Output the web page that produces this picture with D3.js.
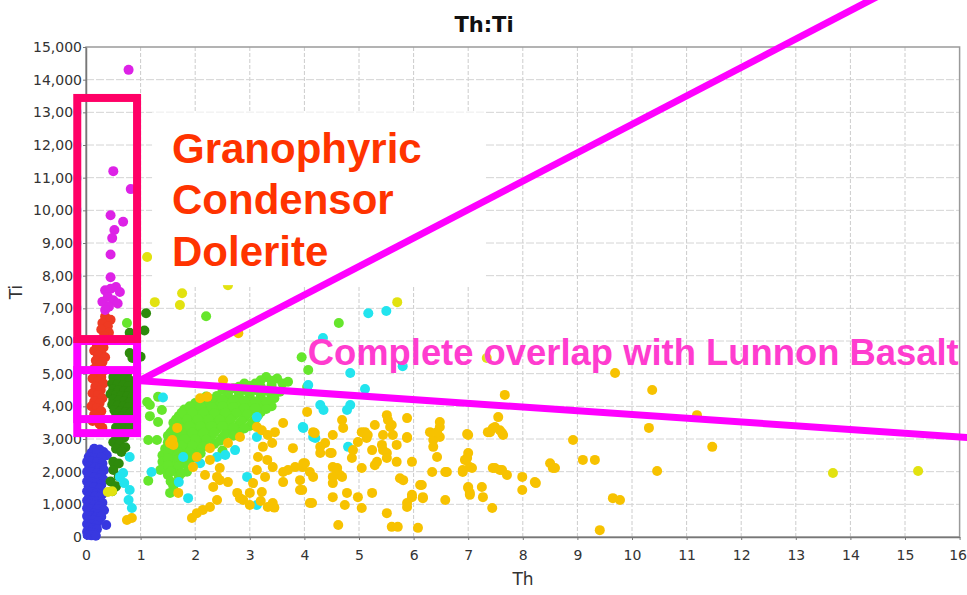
<!DOCTYPE html>
<html>
<head>
<meta charset="utf-8">
<script src="https://cdn.jsdelivr.net/npm/d3@7/dist/d3.min.js"></script>
<style>
  body { margin: 0; background: #fff; }
  #viz { width: 967px; height: 595px; }
</style>
</head>
<body>
<div id="viz"></div>
<script>
// Th:Ti scatter, one array of [Th, Ti] pairs per rock group

var xTicks = d3.range(0, 17);
var yTicks = d3.range(0, 15001, 1000);

var BluePoints = [
  [0.15,2700],[0.25,2680],[0.32,2600],[0.1,2580],[0.2,2550],[0.38,2500],[0.05,2450],[0.15,2420],[0.28,2430],
  [0.02,2300],[0.1,2300],[0.2,2280],[0.3,2250],[0.06,2150],[0.16,2130],[0.25,2100],[0.33,2050],
  [0.02,2000],[0.1,1980],[0.2,1950],[0.28,1900],[0.05,1850],[0.15,1820],[0.24,1780],[0.32,1750],
  [0.02,1700],[0.1,1680],[0.2,1650],[0.28,1600],[0.05,1550],[0.15,1520],[0.25,1480],
  [0.02,1400],[0.1,1380],[0.2,1350],[0.3,1320],[0.06,1250],[0.16,1230],[0.25,1200],
  [0.02,1120],[0.1,1100],[0.2,1080],[0.3,1050],[0.05,1000],[0.15,980],[0.24,950],
  [0.02,880],[0.1,860],[0.2,840],[0.33,820],[0.05,750],[0.15,730],[0.22,700],
  [0.02,640],[0.1,620],[0.18,600],[0.28,620],[0.05,520],[0.14,500],[0.22,480],
  [0.02,400],[0.1,380],[0.18,350],[0.37,370],[0.05,280],[0.13,260],[0.2,240],
  [0.02,160],[0.08,140],[0.15,120],[0.03,60],[0.1,50],[0.18,40]
];

var RedPoints = [
  [0.35,6750],[0.45,6650],[0.3,6550],[0.4,6450],[0.28,6350],[0.42,6250],[0.33,6150],[0.25,6000],
  [0.2,5850],[0.32,5800],[0.15,5700],[0.28,5650],[0.22,5550],[0.35,5500],[0.18,5400],[0.3,5350],
  [0.25,5250],[0.15,5150],[0.33,5100],[0.2,5000],[0.28,4900],[0.12,4850],[0.22,4750],[0.32,4700],
  [0.17,4600],[0.27,4500],[0.12,4400],[0.22,4350],[0.3,4250],[0.15,4150],[0.25,4100],[0.1,4000],
  [0.2,3950],[0.28,3850],[0.15,3750],[0.22,3650],[0.12,3550],[0.25,3450],[0.3,3340]
];

var MagentaPoints = [
  [0.78,14300],[0.5,11200],[0.82,10650],[0.45,9850],[0.68,9650],[0.52,9400],[0.48,9150],[0.45,8650],[0.45,7950],
  [0.35,7550],[0.45,7600],[0.55,7650],[0.62,7500],[0.4,7350],[0.5,7250],[0.3,7200],[0.58,7150],[0.42,7050],[0.35,6950]
];

var DarkGreenPoints = [
  [1.1,6850],[1.07,6320],[1.0,5520],[0.8,6250],[0.8,5630],[0.85,5480],
  [0.55,5050],[0.65,5000],[0.75,4980],[0.5,4900],[0.6,4850],[0.7,4820],[0.8,4800],[0.48,4700],[0.58,4680],[0.68,4650],[0.78,4620],
  [0.5,4520],[0.6,4500],[0.7,4470],[0.8,4450],[0.45,4380],[0.55,4350],[0.65,4320],[0.75,4300],[0.85,4280],
  [0.5,4200],[0.6,4180],[0.7,4150],[0.8,4120],[0.48,4050],[0.58,4020],[0.68,4000],[0.78,3980],
  [0.52,3880],[0.62,3850],[0.72,3830],[0.82,3800],[0.55,3700],[0.65,3680],[0.75,3650],
  [0.6,3500],[0.7,3480],[0.8,3450],[0.55,3350],[0.68,3330],[0.8,3300],
  [0.55,3100],[0.7,3050],[0.5,2900],[0.62,2870],[0.72,2750],[0.55,2700],[0.65,2600],
  [0.5,2300],[0.6,2250],[0.5,2050],[0.6,1850],[0.45,1700],[0.55,1550],[0.48,1400]
];

var GreenPoints = [
  [3.3,4900],[3.5,4850],[2.9,4700],[3.1,4700],[3.6,4700],[3.4,4650],
  [2.5,4500],[2.7,4550],[2.9,4500],[3.1,4500],[3.3,4480],[3.55,4450],
  [2.2,4300],[2.4,4320],[2.6,4300],[2.8,4300],[3.0,4280],[3.2,4250],[3.45,4250],
  [2.0,4100],[2.2,4100],[2.4,4080],[2.6,4100],[2.8,4080],[3.0,4050],[3.2,4050],[3.4,4000],
  [1.8,3900],[2.0,3880],[2.2,3900],[2.4,3880],[2.6,3900],[2.8,3850],[3.0,3850],[3.2,3820],
  [1.7,3700],[1.9,3680],[2.1,3700],[2.3,3700],[2.5,3680],[2.7,3700],[2.9,3650],[3.1,3600],
  [1.6,3500],[1.8,3480],[2.0,3500],[2.2,3480],[2.4,3500],[2.6,3480],[2.8,3450],[3.0,3400],
  [1.6,3300],[1.8,3280],[2.0,3300],[2.2,3280],[2.4,3300],[2.6,3250],[2.8,3200],
  [1.5,3100],[1.7,3080],[1.9,3100],[2.1,3080],[2.3,3100],[2.5,3050],
  [1.5,2900],[1.7,2880],[1.9,2900],[2.1,2870],[2.35,2850],
  [1.45,2700],[1.65,2680],[1.85,2700],[2.05,2650],[2.5,2650],
  [1.4,2500],[1.6,2480],[1.8,2500],[2.0,2450],
  [1.4,2300],[1.6,2280],[1.8,2250],[1.45,2100],[1.65,2050],[1.85,2000],
  [1.5,1900],[1.7,1850],[1.55,1700],[1.6,1550],[1.54,1350],[1.36,2050],[1.14,1720],
  [3.2,4800],[3.4,4780],[2.8,4600],[3.0,4620],[3.2,4600],[2.6,4400],[2.8,4420],[3.0,4400],[3.2,4380],[3.4,4350],
  [2.1,4200],[2.3,4220],[2.5,4200],[2.7,4200],[2.9,4180],[3.1,4150],[3.3,4150],
  [1.9,4000],[2.1,4000],[2.3,3980],[2.5,4000],[2.7,3980],[2.9,3950],[3.1,3950],[3.3,3920],
  [1.75,3800],[1.95,3800],[2.15,3800],[2.35,3790],[2.55,3800],[2.75,3780],[2.95,3750],[3.15,3720],
  [1.65,3600],[1.85,3600],[2.05,3600],[2.25,3600],[2.45,3590],[2.65,3590],[2.85,3550],[3.05,3520],
  [1.7,3400],[1.9,3400],[2.1,3390],[2.3,3390],[2.5,3400],[2.7,3350],[2.9,3320],
  [1.55,3200],[1.75,3200],[1.95,3190],[2.15,3190],[2.35,3200],[2.55,3150],[2.7,3100],
  [1.6,3000],[1.8,3000],[2.0,2990],[2.2,2980],[2.45,2950],[1.55,2800],[1.75,2790],[1.95,2800],[2.15,2770],
  [1.5,2600],[1.7,2590],[1.9,2600],[2.1,2560],[1.5,2400],[1.7,2390],[1.9,2370],[1.5,2200],[1.7,2170],
  [1.55,2000],[1.75,1950],
  [0.75,6550],[2.2,6760],[4.63,6550],[3.95,5500],[4.07,5110],[4.05,4590],[1.12,4130],[1.39,3890],
  [1.32,3520],[1.14,2970],[1.3,2970],[1.17,4040],[1.32,4290],[1.17,3700],[3.7,4750],[3.4,4550]
];

var CyanPoints = [
  [0.8,2450],[0.68,1960],[0.7,1650],[0.8,1440],[0.84,890],[0.78,1130],[0.62,1840],
  [1.41,4270],[1.2,1990],[1.7,1680],[1.87,1190],[1.78,2450],[2.09,2260],[2.4,2450],[2.73,2660],[2.55,2510],
  [2.95,1840],[3.13,3060],[3.13,980],[3.13,3670],[3.97,3370],[4.16,3060],[4.07,4650],[4.29,4040],[4.35,3890],
  [4.84,5020],[5.11,4530],[4.84,4040],[4.78,3890],[4.8,2760],[4.2,3030],[3.98,3340],
  [5.17,6850],[5.5,6920],[5.8,5230],[4.34,6090]
];

var OrangePoints = [
  [2.51,4800],[2.22,4290],[1.67,3340],[1.6,2820],[1.58,2970],[2.27,2720],[2.6,2880],[2.82,3060],[3.13,3370],
  [3.22,3270],[3.33,3120],[3.46,3210],[3.61,3490],[3.24,2760],[3.41,2880],[3.15,2450],[3.32,2360],[3.42,2140],
  [3.13,2050],[3.28,1840],[3.06,1650],[3.0,1350],[3.22,1380],[3.61,1680],[3.7,2050],[3.83,2140],[3.97,2140],
  [3.61,1990],[3.92,1740],[4.1,1990],[4.16,1840],[3.92,1440],[3.79,2720],[4.05,3830],[4.16,3210],[2.03,2450],
  [2.27,2360],[2.18,1900],[2.4,1840],[2.33,1530],[2.45,1740],[2.6,1680],[2.77,1350],[2.82,1190],[3.0,980],
  [2.88,1130],[3.42,1040],[3.33,920],[2.4,1130],[2.27,920],[2.14,830],[2.03,730],[1.94,580],[4.1,1040],
  [2.45,2110],[1.96,2140],[1.54,2870],[1.69,1350],[0.75,520],[0.84,580],[2.09,4250],[2.79,6240],
  [4.69,3580],[4.71,3340],[4.19,3180],[4.52,3120],[4.38,2880],[4.29,2570],[4.47,2570],[4.01,2260],[4.52,2140],
  [4.6,1960],[4.69,1840],[4.52,1650],[3.96,1440],[4.52,1220],[4.78,1350],[4.14,1040],[4.74,980],[4.62,370],
  [4.98,1220],[5.05,890],[5.24,1350],[4.89,2660],[4.98,2910],[5.11,3210],[5.14,3030],[5.29,3430],[5.24,2660],
  [5.33,2300],[5.51,3730],[5.53,3580],[5.57,3370],[5.44,3120],[5.62,3120],[5.42,2820],[5.51,2570],[5.69,2300],
  [5.69,2820],[5.88,3640],[5.88,3060],[5.97,2300],[5.75,1800],[5.81,1740],[5.51,730],[5.6,310],[5.71,310],
  [6.08,280],[5.88,920],[5.97,1290],[6.17,1190],[6.15,1590],[6.34,1990],[6.36,2970],[6.48,3060],[6.3,3210],
  [6.48,3370],[6.43,2450],[6.61,1990],[6.58,1130],[6.48,3520],[7.0,3120],[6.94,2360],[7.0,2570],[6.9,1990],
  [7.03,2140],[7.0,1530],[7.03,1350],[7.27,1220],[7.25,1530],[7.44,890],[7.36,3210],[7.49,3370],[7.58,3270],
  [7.64,3120],[7.55,3670],[7.67,4350],[7.45,2110],[7.58,2050],[7.71,1900],[7.99,1840],[7.99,1440],[8.22,1680],
  [8.5,2260],[8.55,2110],[8.92,2970],[9.1,2360],[9.32,2360],[9.65,1190],[9.41,210],[9.69,5020],
  [4.6,2110],[4.65,1900],[4.87,2420],[5.05,2110],[5.29,2200],[4.29,2760],[4.5,2570],
  [5.6,3430],[5.05,3210],[5.16,3120],[5.88,3030],[6.43,3210],[6.36,2760],[7.4,3210],[5.44,2660],[5.51,2420],
  [6.12,1590],[5.97,1220],[6.17,1220],[5.88,1040],[4.52,1840],[3.98,2260],[6.58,1990],[6.96,2360],
  [7.45,3330],[7.62,3180],[6.98,3150],[6.98,2420],[6.9,2050],[7.07,2110],[7.49,2110],[7.62,2050],[8.59,2110],
  [8.24,1650],[7.0,1500],[7.03,1290],[3.2,1100],[3.45,900],
  [10.37,4500],[11.19,3730],[10.31,3340],[11.47,2760],[10.46,2020],[9.78,1130]
];

var YellowPoints = [
  [1.12,8570],[1.26,7190],[1.76,7460],[1.72,7100],[2.6,7710],[5.7,7190],[7.34,5480],
  [13.68,1960],[15.24,2020],[0.4,1380],[0.48,1400]
];

var Series = [
  {name: "blue",      color: "#3838e0", points: BluePoints},
  {name: "red",       color: "#ee3a22", points: RedPoints},
  {name: "magenta",   color: "#dd22e6", points: MagentaPoints},
  {name: "darkgreen", color: "#2e8a0c", points: DarkGreenPoints},
  {name: "green",     color: "#66e62c", points: GreenPoints},
  {name: "cyan",      color: "#22e4ee", points: CyanPoints},
  {name: "orange",    color: "#f7c200", points: OrangePoints},
  {name: "yellow",    color: "#e2e210", points: YellowPoints}
];

// overlay shapes, in data units (Th, Ti)
var BoxCrimson = {x0: -0.16, x1: 0.935, y0: 6060, y1: 13440};
var BoxMagenta = [{x0: -0.16, x1: 0.935, y0: 3180, y1: 6000},
                  {x0: -0.16, x1: 0.935, y0: 3610, y1: 5110}];
var PointerLines = [[[1.0, 4800], [14.5, 16550]],
                    [[1.0, 4780], [16.2, 3040]]];
var LabelBox = {x0: 1.21, x1: 7.31, y0: 7710, y1: 13000};
var LabelLines = ["Granophyric", "Condensor", "Dolerite"];
var LabelLineTi = [11440, 9880, 8290];
var OverlapText = "Complete overlap with Lunnon Basalt";

var W = 967, H = 595;
var x = d3.scaleLinear().domain([0, 16]).range([86, 959.6]);
var y = d3.scaleLinear().domain([0, 15000]).range([537, 47]);

function main() {
    var svg = d3.select("#viz").append("svg")
        .attr("width", W).attr("height", H)
        .style("font-family", "'DejaVu Sans', Verdana, sans-serif");

    // grid
    svg.append("g").selectAll("line").data(xTicks.slice(1, -1)).enter().append("line")
        .attr("x1", function(d) { return x(d); }).attr("x2", function(d) { return x(d); })
        .attr("y1", y(15000)).attr("y2", y(0))
        .attr("stroke", "#cccccc").attr("stroke-dasharray", "4,2");
    svg.append("g").selectAll("line").data(yTicks.slice(1, -1)).enter().append("line")
        .attr("x1", x(0)).attr("x2", x(16))
        .attr("y1", function(d) { return y(d); }).attr("y2", function(d) { return y(d); })
        .attr("stroke", "#d4d4d4").attr("stroke-dasharray", "8,2");

    // frame
    svg.append("rect")
        .attr("x", x(0)).attr("y", y(15000))
        .attr("width", x(16) - x(0)).attr("height", y(0) - y(15000))
        .attr("fill", "none").attr("stroke", "#9a9a9a").attr("stroke-width", 1.5);

    // axes
    var xAxis = svg.append("g").attr("transform", "translate(0," + y(0) + ")")
        .call(d3.axisBottom(x).tickValues(xTicks).tickSize(3).tickSizeOuter(0).tickPadding(10));
    var yAxis = svg.append("g").attr("transform", "translate(" + x(0) + ",0)")
        .call(d3.axisLeft(y).tickValues(yTicks).tickFormat(d3.format(",")).tickSize(3).tickSizeOuter(0).tickPadding(1));
    [xAxis, yAxis].forEach(function(a) {
        a.select(".domain").attr("stroke", "#777").attr("stroke-width", 1.5);
        a.selectAll(".tick line").attr("stroke", "#777");
        a.selectAll(".tick text")
            .attr("fill", "#333").style("font-size", "14px")
            .style("font-family", "'DejaVu Sans', Verdana, sans-serif");
    });
    // last x label sits at the window edge
    xAxis.selectAll(".tick text").filter(function(d) { return d == 16; }).attr("dx", -2);

    svg.append("text").attr("x", 484).attr("y", 32).attr("text-anchor", "middle")
        .style("font-size", "21px").style("font-weight", "bold").attr("fill", "#111")
        .text("Th:Ti");
    svg.append("text").attr("x", 523).attr("y", 585).attr("text-anchor", "middle")
        .style("font-size", "17px").attr("fill", "#333").text("Th");
    svg.append("text").attr("transform", "translate(22,292) rotate(-90)").attr("text-anchor", "middle")
        .style("font-size", "17px").attr("fill", "#333").text("Ti");

    // points
    var dots = svg.append("g").attr("id", "points");
    Series.forEach(function(s) {
        dots.append("g").attr("class", s.name).selectAll("circle").data(s.points).enter().append("circle")
            .attr("cx", function(d) { return x(d[0]); })
            .attr("cy", function(d) { return y(d[1]); })
            .attr("r", 5)
            .attr("fill", s.color);
    });

    // annotation overlay
    var note = svg.append("g").attr("id", "notes");
    note.append("rect")
        .attr("x", x(LabelBox.x0)).attr("y", y(LabelBox.y1))
        .attr("width", x(LabelBox.x1) - x(LabelBox.x0)).attr("height", y(LabelBox.y0) - y(LabelBox.y1))
        .attr("fill", "#fff");
    note.selectAll("text.gcd").data(LabelLines).enter().append("text")
        .attr("class", "gcd")
        .attr("x", x(1.575))
        .attr("y", function(d, i) { return y(LabelLineTi[i]); })
        .style("font-family", "'Liberation Sans', Arial, sans-serif")
        .style("font-size", "42px").style("font-weight", "bold")
        .attr("fill", "#ff3300")
        .text(function(d) { return d; });

    note.selectAll("rect.mag").data(BoxMagenta).enter().append("rect")
        .attr("class", "mag")
        .attr("x", function(d) { return x(d.x0); }).attr("y", function(d) { return y(d.y1); })
        .attr("width", function(d) { return x(d.x1) - x(d.x0); })
        .attr("height", function(d) { return y(d.y0) - y(d.y1); })
        .attr("fill", "none").attr("stroke", "#ff00ff").attr("stroke-width", 8);
    note.append("rect")
        .attr("x", x(BoxCrimson.x0)).attr("y", y(BoxCrimson.y1))
        .attr("width", x(BoxCrimson.x1) - x(BoxCrimson.x0))
        .attr("height", y(BoxCrimson.y0) - y(BoxCrimson.y1))
        .attr("fill", "none").attr("stroke", "#ff0066").attr("stroke-width", 8);

    var line = d3.line().x(function(d) { return x(d[0]); }).y(function(d) { return y(d[1]); });
    note.selectAll("path.ptr").data(PointerLines).enter().append("path")
        .attr("class", "ptr")
        .attr("d", line)
        .attr("fill", "none").attr("stroke", "#ff00ff").attr("stroke-width", 7);

    note.append("text")
        .attr("x", x(4.06)).attr("y", y(5260))
        .style("font-family", "'Liberation Sans', Arial, sans-serif")
        .style("font-size", "36.4px").style("font-weight", "bold")
        .attr("fill", "#ff3ccf")
        .text(OverlapText);
}

main();
</script>
</body>
</html>
